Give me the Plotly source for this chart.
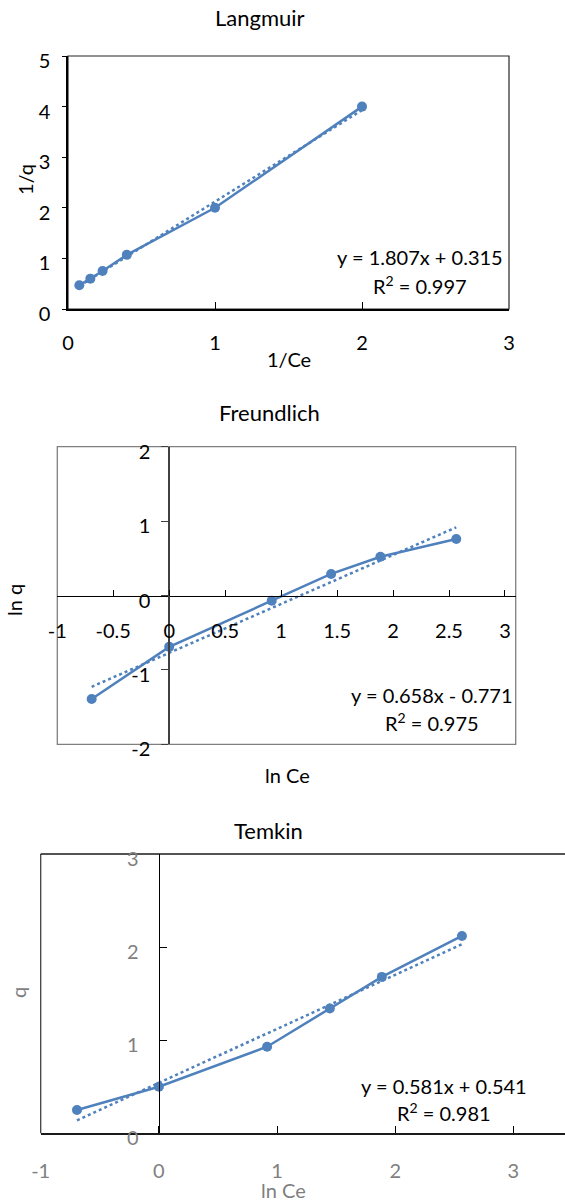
import plotly.graph_objects as go

# ---- isotherm data -------------------------------------------------------
inv_ce = [0.077, 0.152, 0.235, 0.40, 1.00, 2.00]      # 1/Ce
inv_q = [0.47, 0.60, 0.75, 1.07, 2.00, 4.00]          # 1/q
ln_ce = [-0.693, 0.0, 0.916, 1.447, 1.887, 2.565]     # ln Ce
ln_q = [-1.39, -0.69, -0.07, 0.29, 0.52, 0.76]        # ln q
q_vals = [0.25, 0.50, 0.93, 1.34, 1.68, 2.12]         # q

# linear fits (slope, intercept, R^2)
lang_fit = (1.807, 0.315, 0.997)
freu_fit = (0.658, -0.771, 0.975)
temk_fit = (0.581, 0.541, 0.981)

# tick values
lang_xticks = [0, 1, 2, 3]
lang_yticks = [0, 1, 2, 3, 4, 5]
freu_xticks = [-1, -0.5, 0, 0.5, 1, 1.5, 2, 2.5, 3]
freu_yticks = [-2, -1, 0, 1, 2]
temk_xticks = [-1, 0, 1, 2, 3]
temk_yticks = [0, 1, 2, 3]

W, H = 565, 1202
FONT = "Lato"
BLUE = "#4F81BD"
GREY = "#7F7F7F"
FS = 20


def fx(px):
    return px / W


def fy(py):
    return 1 - py / H


def labels(vals):
    # plain hyphen-minus for negative tick labels
    return [f"{v:g}" for v in vals]


def fmt_eq(slope, intercept):
    sign = "+" if intercept >= 0 else "-"
    return f"y = {slope:.3f}x {sign} {abs(intercept):.3f}"


fig = go.Figure()


def add_series(xs, ys, fit, xa, ya):
    fig.add_trace(go.Scatter(
        x=xs, y=ys, mode="lines+markers", xaxis=xa, yaxis=ya,
        line=dict(color=BLUE, width=2.5),
        marker=dict(color=BLUE, size=10), showlegend=False))
    slope, intercept, _ = fit
    x0, x1 = min(xs), max(xs)
    fig.add_trace(go.Scatter(
        x=[x0, x1], y=[slope * x0 + intercept, slope * x1 + intercept],
        mode="lines", xaxis=xa, yaxis=ya,
        line=dict(color=BLUE, width=2.5, dash="dot"), showlegend=False))


add_series(inv_ce, inv_q, lang_fit, "x", "y")
add_series(ln_ce, ln_q, freu_fit, "x2", "y2")
add_series(ln_ce, q_vals, temk_fit, "x3", "y3")

common = dict(showgrid=False, zeroline=False, showline=True, automargin=False)

fig.update_layout(
    width=W, height=H,
    margin=dict(l=0, r=0, t=0, b=0, pad=0, autoexpand=False),
    paper_bgcolor="white", plot_bgcolor="white",
    font=dict(family=FONT, size=FS, color="black"),
    # Langmuir
    xaxis=dict(domain=[fx(68), fx(509)], range=[0, 3], anchor="y",
               tickvals=lang_xticks, ticktext=labels(lang_xticks),
               ticks="inside", ticklen=7,
               tickcolor="black", linecolor="black", linewidth=1.5,
               ticklabelstandoff=15, tickfont=dict(size=FS, color="black"),
               **common),
    yaxis=dict(domain=[fy(309), fy(56)], range=[0, 5], anchor="x",
               tickvals=lang_yticks, ticktext=labels(lang_yticks),
               ticks="outside", ticklen=4,
               tickcolor="black", linecolor="black", linewidth=1.5,
               ticklabelstandoff=8, ticklabelshift=5,
               tickfont=dict(size=FS, color="black"), **common),
    # Freundlich
    xaxis2=dict(domain=[fx(57.3), fx(515.7)], range=[-1, 3.096],
                anchor="free", position=fy(595.7),
                tickvals=freu_xticks, ticktext=labels(freu_xticks),
                ticks="inside", ticklen=6, tickcolor="black",
                linecolor="black", linewidth=1.3, ticklabelstandoff=17,
                tickfont=dict(size=FS, color="black"), **common),
    yaxis2=dict(domain=[fy(744.3), fy(446.7)], range=[-2, 2],
                anchor="free", position=fx(169.3),
                tickvals=freu_yticks, ticktext=labels(freu_yticks),
                ticks="outside", ticklen=7,
                tickcolor="#404040", linecolor="#404040", linewidth=2,
                ticklabelstandoff=7, ticklabelshift=5,
                tickfont=dict(size=FS, color="black"), **common),
    # Temkin
    xaxis3=dict(domain=[fx(40.7), 1], range=[-1, 3.437], anchor="y3",
                tickvals=temk_xticks, ticktext=labels(temk_xticks),
                ticks="inside", ticklen=7,
                tickcolor="black", linecolor="#1A1A1A", linewidth=2,
                ticklabelstandoff=19, tickfont=dict(size=FS, color=GREY),
                **common),
    yaxis3=dict(domain=[fy(1133.3), fy(854)], range=[0, 3],
                anchor="free", position=fx(158.7),
                tickvals=temk_yticks, ticktext=labels(temk_yticks),
                ticks="inside", ticklen=7,
                tickcolor="black", linecolor="black", linewidth=1,
                ticklabelstandoff=16, ticklabelshift=5,
                tickfont=dict(size=FS, color=GREY), **common),
)

# plot-area borders
fig.add_shape(type="rect", xref="x domain", yref="y domain",
              x0=0, x1=1, y0=0, y1=1, layer="below",
              line=dict(color="#262626", width=1.2))
fig.add_shape(type="rect", xref="x2 domain", yref="y2 domain",
              x0=0, x1=1, y0=0, y1=1, layer="below",
              line=dict(color="#7F7F7F", width=1.3))
fig.add_shape(type="line", xref="x3 domain", yref="y3 domain",
              x0=0, x1=0, y0=0, y1=1, layer="below",
              line=dict(color="#404040", width=1.3))
fig.add_shape(type="line", xref="x3 domain", yref="y3 domain",
              x0=0, x1=1, y0=1, y1=1, layer="below",
              line=dict(color="#1A1A1A", width=1.3))


def text(x, y, s, color="black", angle=0, size=FS):
    fig.add_annotation(x=fx(x), y=fy(y), xref="paper", yref="paper",
                       text=s, showarrow=False, textangle=angle,
                       xanchor="center", yanchor="middle",
                       font=dict(family=FONT, size=size, color=color))


# titles
text(260, 18, "Langmuir", size=22)
text(269, 413, "Freundlich", size=22)
text(268, 830, "Temkin", size=22)

# axis titles
text(289, 359, "1/Ce")
text(25, 180, "1/q", angle=-90)
text(287, 775, "ln Ce")
text(14, 600, "ln q", angle=-90)
text(283, 1190, "ln Ce", color=GREY)
text(18, 993, "q", color=GREY, angle=-90)

# fit equations
for fit, cx, y1, y2 in [(lang_fit, 420, 257, 285),
                        (freu_fit, 432, 695, 722),
                        (temk_fit, 444, 1086, 1112)]:
    text(cx, y1, fmt_eq(fit[0], fit[1]))
    text(cx, y2, f"R<sup>2</sup> = {fit[2]:.3f}")

fig.write_html("out.html")
